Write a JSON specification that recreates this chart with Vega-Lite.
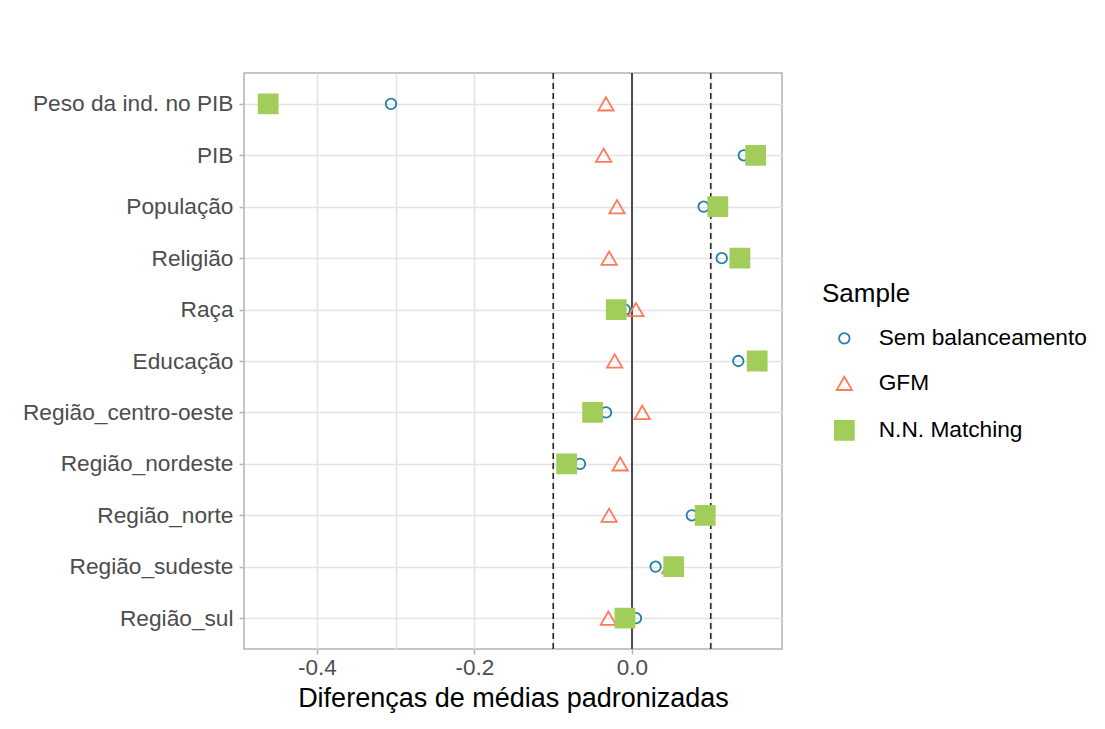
{
  "$schema": "https://vega.github.io/schema/vega-lite/v6.json",
  "width": 538,
  "height": 576,
  "autosize": {"type": "none"},
  "padding": {"left": 244, "top": 73, "right": 323, "bottom": 80},
  "background": "white",
  "config": {
    "font": "Liberation Sans",
    "view": {"stroke": "#B3B3B3", "strokeWidth": 1.5},
    "axis": {"gridColor": "#E3E3E3", "gridWidth": 1.5, "domain": false}
  },
  "datasets": {
    "smd": [
      {"variavel": "Peso da ind. no PIB", "Sample": "Sem balanceamento", "dif": -0.306},
      {"variavel": "PIB", "Sample": "Sem balanceamento", "dif": 0.142},
      {"variavel": "População", "Sample": "Sem balanceamento", "dif": 0.091},
      {"variavel": "Religião", "Sample": "Sem balanceamento", "dif": 0.114},
      {"variavel": "Raça", "Sample": "Sem balanceamento", "dif": -0.009},
      {"variavel": "Educação", "Sample": "Sem balanceamento", "dif": 0.135},
      {"variavel": "Região_centro-oeste", "Sample": "Sem balanceamento", "dif": -0.033},
      {"variavel": "Região_nordeste", "Sample": "Sem balanceamento", "dif": -0.066},
      {"variavel": "Região_norte", "Sample": "Sem balanceamento", "dif": 0.076},
      {"variavel": "Região_sudeste", "Sample": "Sem balanceamento", "dif": 0.030},
      {"variavel": "Região_sul", "Sample": "Sem balanceamento", "dif": 0.005},
      {"variavel": "Peso da ind. no PIB", "Sample": "GFM", "dif": -0.033},
      {"variavel": "PIB", "Sample": "GFM", "dif": -0.036},
      {"variavel": "População", "Sample": "GFM", "dif": -0.019},
      {"variavel": "Religião", "Sample": "GFM", "dif": -0.029},
      {"variavel": "Raça", "Sample": "GFM", "dif": 0.005},
      {"variavel": "Educação", "Sample": "GFM", "dif": -0.022},
      {"variavel": "Região_centro-oeste", "Sample": "GFM", "dif": 0.013},
      {"variavel": "Região_nordeste", "Sample": "GFM", "dif": -0.015},
      {"variavel": "Região_norte", "Sample": "GFM", "dif": -0.029},
      {"variavel": "Região_sudeste", "Sample": "GFM", "dif": 0.048},
      {"variavel": "Região_sul", "Sample": "GFM", "dif": -0.030},
      {"variavel": "Peso da ind. no PIB", "Sample": "N.N. Matching", "dif": -0.462},
      {"variavel": "PIB", "Sample": "N.N. Matching", "dif": 0.157},
      {"variavel": "População", "Sample": "N.N. Matching", "dif": 0.109},
      {"variavel": "Religião", "Sample": "N.N. Matching", "dif": 0.137},
      {"variavel": "Raça", "Sample": "N.N. Matching", "dif": -0.020},
      {"variavel": "Educação", "Sample": "N.N. Matching", "dif": 0.159},
      {"variavel": "Região_centro-oeste", "Sample": "N.N. Matching", "dif": -0.050},
      {"variavel": "Região_nordeste", "Sample": "N.N. Matching", "dif": -0.083},
      {"variavel": "Região_norte", "Sample": "N.N. Matching", "dif": 0.093},
      {"variavel": "Região_sudeste", "Sample": "N.N. Matching", "dif": 0.053},
      {"variavel": "Região_sul", "Sample": "N.N. Matching", "dif": -0.009}
    ],
    "refs": [
      {"v": -0.1, "kind": "limite"},
      {"v": 0, "kind": "zero"},
      {"v": 0.1, "kind": "limite"}
    ]
  },
  "layer": [
    {
      "data": {"name": "refs"},
      "mark": {"type": "rule", "color": "#262626", "strokeWidth": 1.6},
      "encoding": {
        "x": {
          "field": "v",
          "type": "quantitative",
          "scale": {"domain": [-0.4927, 0.1905], "nice": false, "zero": false},
          "axis": {
            "orient": "bottom",
            "values": [-0.4, -0.3, -0.2, -0.1, 0, 0.1],
            "grid": true,
            "labels": false,
            "ticks": false,
            "domain": false,
            "title": null
          }
        },
        "strokeDash": {
          "field": "kind",
          "type": "nominal",
          "scale": {"domain": ["zero", "limite"], "range": [[1, 0], [6, 4]]},
          "legend": null
        }
      }
    },
    {
      "data": {"name": "smd"},
      "mark": {"type": "point", "strokeWidth": 1.8, "opacity": 1},
      "encoding": {
        "x": {
          "field": "dif",
          "type": "quantitative",
          "axis": {
            "orient": "bottom",
            "values": [-0.4, -0.2, 0],
            "grid": false,
            "labelExpr": "replace(format(datum.value, '.1f'), '−', '-')",
            "labelFontSize": 22.5,
            "labelColor": "#4D4D4D",
            "labelPadding": 2,
            "tickColor": "#B3B3B3",
            "tickSize": 5,
            "tickWidth": 1.5,
            "title": "Diferenças de médias padronizadas",
            "titleFontSize": 27,
            "titleFontWeight": "normal",
            "titleColor": "black",
            "titlePadding": 7
          }
        },
        "y": {
          "field": "variavel",
          "type": "nominal",
          "sort": ["Peso da ind. no PIB", "PIB", "População", "Religião", "Raça", "Educação", "Região_centro-oeste", "Região_nordeste", "Região_norte", "Região_sudeste", "Região_sul"],
          "scale": {"type": "point", "padding": 0.6},
          "axis": {
            "title": null,
            "grid": true,
            "labelFontSize": 22.7,
            "labelLimit": 400,
            "labelColor": "#4D4D4D",
            "labelPadding": 6,
            "tickColor": "#B3B3B3",
            "tickSize": 5,
            "tickWidth": 1.5
          }
        },
        "shape": {
          "field": "Sample",
          "type": "nominal",
          "scale": {"domain": ["Sem balanceamento", "GFM", "N.N. Matching"], "range": ["circle", "triangle-up", "square"]}
        },
        "stroke": {
          "field": "Sample",
          "type": "nominal",
          "scale": {"domain": ["Sem balanceamento", "GFM", "N.N. Matching"], "range": ["#1F7FA6", "#FF7A5C", "#A2CD5A"]}
        },
        "fill": {
          "field": "Sample",
          "type": "nominal",
          "scale": {"domain": ["Sem balanceamento", "GFM", "N.N. Matching"], "range": ["transparent", "transparent", "#A2CD5A"]}
        },
        "size": {
          "field": "Sample",
          "type": "nominal",
          "scale": {"domain": ["Sem balanceamento", "GFM", "N.N. Matching"], "range": [110, 360, 225]},
          "legend": {
            "orient": "none",
            "legendX": 578,
            "legendY": 208,
            "title": "Sample",
            "titleFontSize": 26,
            "titleFontWeight": "normal",
            "titleColor": "black",
            "titlePadding": 20,
            "labelFontSize": 22.7,
            "labelColor": "black",
            "labelLimit": 300,
            "labelOffset": 23,
            "symbolOffset": 11,
            "rowPadding": 21,
            "symbolStrokeWidth": 1.8
          }
        }
      }
    }
  ],
  "resolve": {"axis": {"x": "independent"}}
}
